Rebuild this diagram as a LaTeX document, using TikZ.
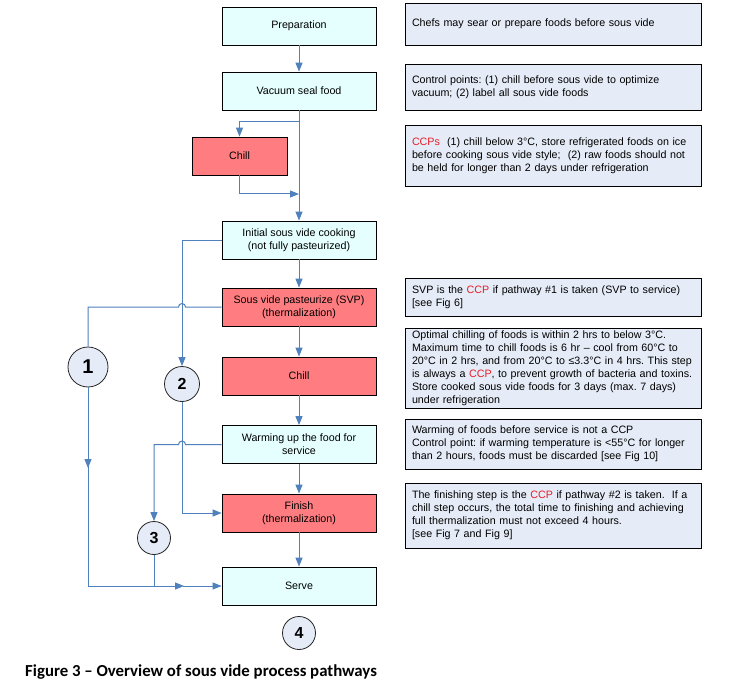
\documentclass[tikz,border=0pt]{standalone}
\usepackage{fontspec}
\setmainfont{Liberation Sans}
\newfontfamily\capfont{Carlito}
\usetikzlibrary{arrows.meta}
\frenchspacing
\definecolor{cyanfill}{RGB}{229,255,255}
\definecolor{redfill}{RGB}{255,124,128}
\definecolor{notefill}{RGB}{230,236,247}
\definecolor{circfill}{RGB}{230,236,247}
\definecolor{flowblue}{RGB}{79,129,189}
\definecolor{ccpred}{RGB}{230,30,40}
\newcommand\fsz{\fontsize{10.7}{13}\selectfont}
\newcommand\ccp[1]{\textcolor{ccpred}{#1}}
\tikzset{
  box/.style={draw=black, line width=0.8pt, minimum width=154pt, minimum height=38pt, align=center, inner sep=1pt, font=\fsz},
  mainbox/.style={box, fill=cyanfill},
  redbox/.style={box, fill=redfill},
  notebox/.style={draw=black, line width=0.8pt, fill=notefill, text width=282pt, inner xsep=7pt, inner ysep=0pt, align=left, font=\fsz},
  numcirc/.style={circle, draw=black!85, line width=0.8pt, fill=circfill, inner sep=0pt, font=\bfseries\fontsize{16}{16}\selectfont},
  flow/.style={draw=flowblue, line width=1pt},
  arr/.style={flow, -{Triangle[length=9pt,width=7pt]}}
}
\begin{document}
\begin{tikzpicture}[x=1pt,y=-1pt]
\useasboundingbox (0,0) rectangle (753,682);
\fill[white] (0,0) rectangle (753,682);

% main column
\node[mainbox] (prep) at (299,26) {Preparation};
\node[mainbox] (vac) at (299,91) {Vacuum seal food};
\node[redbox, minimum width=95pt] (chill1) at (239.5,156) {Chill};
\node[mainbox] (init) at (299,240) {Initial sous vide cooking\\(not fully pasteurized)};
\node[redbox] (svp) at (299,307) {Sous vide pasteurize (SVP)\\(thermalization)};
\node[redbox] (chill2) at (299,376) {Chill};
\node[mainbox] (warm) at (299,444.5) {Warming up the food for\\service};
\node[redbox] (finish) at (299,513) {Finish\\(thermalization)};
\node[mainbox] (serve) at (299,586) {Serve};

% circles
\node[numcirc, minimum size=40pt, font=\bfseries\fontsize{20}{20}\selectfont] (c1) at (88,367) {1};
\node[numcirc, minimum size=35pt] (c2) at (182,384) {2};
\node[numcirc, minimum size=33pt] (c3) at (154,538) {3};
\node[numcirc, minimum size=33pt] (c4) at (299,633) {4};

% notes
\node[notebox, minimum height=42pt] (n1) at (553,24) {Chefs may sear or prepare foods before sous vide};
\node[notebox, minimum height=46pt] (n2) at (553,87) {Control points: (1) chill before sous vide to optimize\\vacuum; (2) label all sous vide foods};
\node[notebox, minimum height=61pt] (n3) at (553,155.5) {\ccp{CCPs}\ \ (1) chill below 3°C, store refrigerated foods on ice\\before cooking sous vide style;\ \ (2) raw foods should not\\be held for longer than 2 days under refrigeration};
\node[notebox, minimum height=38pt] (n4) at (553,297) {SVP is the \ccp{CCP} if pathway \#1 is taken (SVP to service)\\{[see Fig 6]}};
\node[notebox, minimum height=80pt] (n5) at (553,368) {Optimal chilling of foods is within 2 hrs to below 3°C.\\Maximum time to chill foods is 6 hr – cool from 60°C to\\20°C in 2 hrs, and from 20°C to ≤3.3°C in 4 hrs. This step\\is always a \ccp{CCP}, to prevent growth of bacteria and toxins.\\Store cooked sous vide foods for 3 days (max. 7 days)\\under refrigeration};
\node[notebox, minimum height=50pt] (n6) at (553,444) {Warming of foods before service is not a CCP\\Control point: if warming temperature is <55°C for longer\\than 2 hours, foods must be discarded [see Fig 10]};
\node[notebox, minimum height=65pt] (n7) at (553,515.5) {The finishing step is the \ccp{CCP} if pathway \#2 is taken.\ \ If a\\chill step occurs, the total time to finishing and achieving\\full thermalization must not exceed 4 hours.\\{[see Fig 7 and Fig 9]}};

% caption
\node[anchor=base west, inner sep=0pt, font=\capfont\bfseries\fontsize{16.8}{20}\selectfont] (cap) at (25,676) {Figure 3 – Overview of sous vide process pathways};

% main flow
\draw[arr] (prep) -- (vac);
\draw[arr] (vac.south) -- (init.north);
\coordinate (b1) at (299,122);
\coordinate (b1l) at (239.5,122);
\draw[arr] (b1) -- (b1l) -- (chill1.north);
\coordinate (b2) at (239.5,194);
\coordinate (b2r) at (299,194);
\draw[arr] (chill1.south) -- (b2) -- (b2r);
\draw[arr] (init) -- (svp);
\draw[arr] (svp) -- (chill2);
\draw[arr] (chill2) -- (warm);
\draw[arr] (warm) -- (finish);
\draw[arr] (finish) -- (serve);

% pathway 2
\draw[arr] (init.west) -- (182,240) -- (c2.north);
\draw[arr] (c2.south) -- (182,513) -- (finish.west);

% pathway 1
\draw[flow] (svp.west) -- (185.5,307) arc[start angle=0, end angle=180, radius=3.5pt] -- (88,307) -- (c1.north);
\draw[arr] (c1.south) -- (88,468);
\coordinate (j1) at (88,586);
\coordinate (m1) at (184,586);
\draw[arr] (88,466) -- (j1) -- (m1);
\draw[arr] (183,586) -- (serve.west);

% pathway 3
\draw[arr] (warm.west) -- (185.5,444.5) arc[start angle=0, end angle=180, radius=3.5pt] -- (154,444.5) -- (c3.north);
\draw[flow] (c3.south) -- (154,586);
\end{tikzpicture}
\end{document}
